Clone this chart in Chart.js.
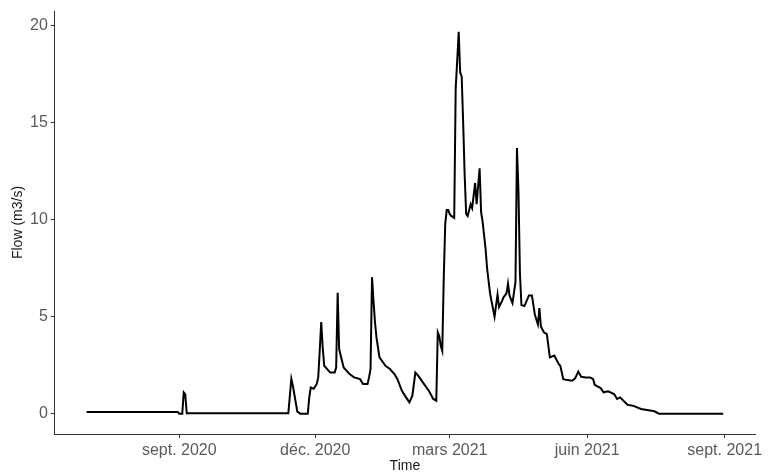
<!DOCTYPE html>
<html>
<head>
<meta charset="utf-8">
<script src="https://cdn.jsdelivr.net/npm/chart.js@4"></script>
<style>
  body { margin: 0; background: #fff; }
  #wrap { width: 772px; height: 475px; }
</style>
</head>
<body>
<div id="wrap"><canvas id="flow-chart"></canvas></div>
<script>
// daily flow readings (breakpoints)
const dates = [
	"2020-07-01", "2020-08-30", "2020-08-31", "2020-09-01", "2020-09-03", "2020-09-04", "2020-09-05", "2020-09-06",
	"2020-11-13", "2020-11-15", "2020-11-16", "2020-11-19", "2020-11-21", "2020-11-26", "2020-11-27", "2020-11-28",
	"2020-11-30", "2020-12-02", "2020-12-03", "2020-12-04", "2020-12-05", "2020-12-06", "2020-12-07", "2020-12-11",
	"2020-12-14", "2020-12-15", "2020-12-16", "2020-12-17", "2020-12-20", "2020-12-24", "2020-12-27", "2020-12-31",
	"2021-01-02", "2021-01-05", "2021-01-06", "2021-01-07", "2021-01-08", "2021-01-09", "2021-01-10", "2021-01-11",
	"2021-01-13", "2021-01-17", "2021-01-20", "2021-01-23", "2021-01-25", "2021-01-28", "2021-01-30", "2021-02-02",
	"2021-02-04", "2021-02-06", "2021-02-08", "2021-02-11", "2021-02-15", "2021-02-18", "2021-02-20", "2021-02-21",
	"2021-02-22", "2021-02-23", "2021-02-24", "2021-02-25", "2021-02-26", "2021-02-27", "2021-02-28", "2021-03-01",
	"2021-03-02", "2021-03-04", "2021-03-05", "2021-03-06", "2021-03-07", "2021-03-08", "2021-03-09", "2021-03-10",
	"2021-03-11", "2021-03-12", "2021-03-13", "2021-03-15", "2021-03-16", "2021-03-18", "2021-03-19", "2021-03-21",
	"2021-03-22", "2021-03-23", "2021-03-25", "2021-03-26", "2021-03-28", "2021-03-29", "2021-03-31", "2021-04-02",
	"2021-04-03", "2021-04-05", "2021-04-06", "2021-04-08", "2021-04-09", "2021-04-10", "2021-04-12", "2021-04-14",
	"2021-04-15", "2021-04-16", "2021-04-17", "2021-04-18", "2021-04-20", "2021-04-23", "2021-04-25", "2021-04-27",
	"2021-04-29", "2021-04-30", "2021-05-01", "2021-05-03", "2021-05-05", "2021-05-07", "2021-05-10", "2021-05-13",
	"2021-05-14", "2021-05-16", "2021-05-19", "2021-05-22", "2021-05-24", "2021-05-26", "2021-05-28", "2021-05-31",
	"2021-06-03", "2021-06-05", "2021-06-06", "2021-06-10", "2021-06-12", "2021-06-15", "2021-06-19", "2021-06-21",
	"2021-06-23", "2021-06-28", "2021-07-02", "2021-07-07", "2021-07-11", "2021-07-16", "2021-07-19", "2021-08-31"
];

const flow = [
	0.08, 0.08, 0.08, 0.0, 0.0, 1.1, 1.0, 0.02,
	0.02, 1.8, 1.45, 0.1, 0.0, 0.0, 0.84, 1.35,
	1.28, 1.53, 1.87, 3.24, 4.73, 3.41, 2.47, 2.12,
	2.12, 2.38, 6.24, 3.33, 2.38, 2.04, 1.87, 1.78,
	1.53, 1.53, 1.87, 2.3, 7.04, 5.81, 4.7, 3.92,
	2.9, 2.47, 2.3, 2.04, 1.78, 1.18, 0.93, 0.58,
	0.93, 2.12, 1.95, 1.61, 1.18, 0.76, 0.67, 4.2,
	4.0, 3.5, 3.24, 7.0, 9.8, 10.5, 10.5, 10.3,
	10.2, 10.1, 16.8, 18.2, 19.7, 17.6, 17.4, 15.0,
	12.3, 10.3, 10.2, 10.8, 10.6, 11.9, 10.8, 12.66,
	10.4, 9.9, 8.5, 7.5, 6.2, 5.8, 5.0, 6.15,
	5.5, 5.8, 6.0, 6.2, 6.7, 6.1, 5.7, 6.8,
	13.7, 11.5, 7.2, 5.6, 5.55, 6.1, 6.1, 5.1,
	4.6, 5.45, 4.5, 4.2, 4.1, 2.9, 3.0, 2.55,
	2.47, 1.78, 1.73, 1.7, 1.83, 2.17, 1.9, 1.87,
	1.87, 1.78, 1.49, 1.32, 1.1, 1.15, 1.01, 0.76,
	0.84, 0.46, 0.4, 0.24, 0.19, 0.12, 0.0, 0.0
];

const tickDates = ["2020-09-01", "2020-12-01", "2021-03-01", "2021-06-01", "2021-09-01"];
const tickLabels = ["sept. 2020", "déc. 2020", "mars 2021", "juin 2021", "sept. 2021"];
const yTicks = [0, 5, 10, 15, 20];

const DAY = 86400000;
const origin = Date.parse(dates[0]);
const dayOf = s => (Date.parse(s) - origin) / DAY;

const first = dayOf(dates[0]);
const last = dayOf(dates[dates.length - 1]);
const pad = (last - first) * 0.05;

const axisColor = "#333333";
const tickColor = "#5a5a5a";

const config = {
	type: "line",
	data: {
		datasets: [
			{
				data: dates.map((d, i) => ({ x: dayOf(d), y: flow[i] })),
				borderColor: "#000000",
				borderWidth: 2,
				pointRadius: 0,
				tension: 0
			}
		]
	},
	options: {
		responsive: true,
		maintainAspectRatio: false,
		animation: false,
		layout: {
			padding: { top: 5, right: 17, bottom: 0, left: 11 }
		},
		scales: {
			x: {
				type: "linear",
				min: first - pad,
				max: last + pad,
				afterBuildTicks: axis => (axis.ticks = tickDates.map(d => ({ value: dayOf(d) }))),
				grid: {
					drawOnChartArea: false,
					drawTicks: true,
					tickLength: 4,
					color: axisColor
				},
				border: { color: axisColor, width: 1 },
				ticks: {
					autoSkip: false,
					maxRotation: 0,
					padding: 5,
					color: tickColor,
					font: { family: "Liberation Sans", size: 16, lineHeight: 1 },
					callback: (value, index) => tickLabels[index]
				},
				title: {
					display: true,
					text: "Time",
					color: "#1a1a1a",
					padding: { top: -5, bottom: 2 },
					font: { family: "Liberation Sans", size: 14, lineHeight: 1 }
				}
			},
			y: {
				min: -1.05,
				max: 20.77,
				afterBuildTicks: axis => (axis.ticks = yTicks.map(value => ({ value }))),
				grid: {
					drawOnChartArea: false,
					drawTicks: true,
					tickLength: 4,
					color: axisColor
				},
				border: { color: axisColor, width: 1 },
				ticks: {
					padding: 3,
					color: tickColor,
					font: { family: "Liberation Sans", size: 16, lineHeight: 1 }
				},
				title: {
					display: true,
					text: "Flow (m3/s)",
					color: "#1a1a1a",
					padding: { top: 0, bottom: 2 },
					font: { family: "Liberation Sans", size: 14, lineHeight: 1 }
				}
			}
		},
		plugins: {
			legend: { display: false },
			tooltip: { enabled: false }
		}
	}
};

new Chart(document.getElementById("flow-chart"), config);
</script>
</body>
</html>
